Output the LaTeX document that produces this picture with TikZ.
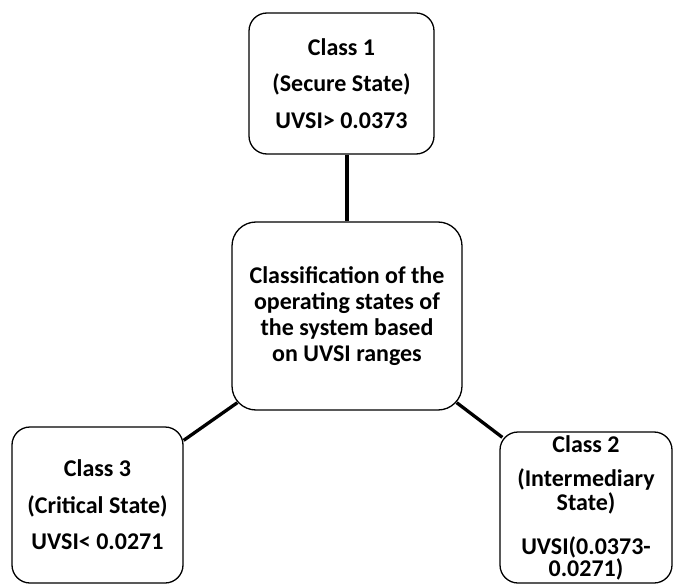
\documentclass[tikz,border=0pt]{standalone}
\usepackage{fontspec}
\setmainfont{Carlito}
\usepackage{tikz}
\usetikzlibrary{arrows.meta}
\usepackage[rgb]{xcolor}
\definecolor{fg}{HTML}{000000}
\definecolor{bg}{HTML}{FFFFFF}

\tikzset{
  classbox/.style={draw=fg, line width=1.3pt, rounded corners=18pt, align=center, inner sep=0pt},
  link/.style={draw=fg, line width=3.3pt}
}

\begin{document}
\begin{tikzpicture}[x=1pt, y=-1pt]

  % Canvas
  \useasboundingbox[fill=bg] (0,0) rectangle (674,585);

  % Centre
  \node[classbox, rounded corners=24pt, minimum width=230pt, minimum height=188pt,
    font=\bfseries\fontsize{24}{26}\selectfont] (main) at (347,316)
    {Classification of the\\operating states of\\the system based\\on UVSI ranges};

  % Class 1
  \node[classbox, minimum width=185pt, minimum height=141pt,
    font=\bfseries\fontsize{24}{36.5}\selectfont] (secure) at (341.5,83.5)
    {Class 1\\(Secure State)\\UVSI> 0.0373};

  % Class 3
  \node[classbox, minimum width=171pt, minimum height=156pt,
    font=\bfseries\fontsize{24}{36.5}\selectfont] (critical) at (97.5,505)
    {Class 3\\(Critical State)\\UVSI< 0.0271};

  % Class 2
  \node[classbox, minimum width=172pt, minimum height=151pt,
    font=\bfseries\fontsize{24}{24}\selectfont] (inter) at (586,507.5)
    {Class 2\\[10pt](Intermediary\\State)\\[20pt]UVSI(0.0373-\\[-2pt]0.0271)};

  % Links
  \draw[link] (main.north |- secure.south) -- (main.north);
  \draw[link] ([yshift=-14pt]critical.north east) -- ([xshift=6pt, yshift=8pt]main.south west);
  \draw[link] ([xshift=-6pt, yshift=8pt]main.south east) -- ([xshift=3pt, yshift=-6pt]inter.north west);
\end{tikzpicture}
\end{document}
